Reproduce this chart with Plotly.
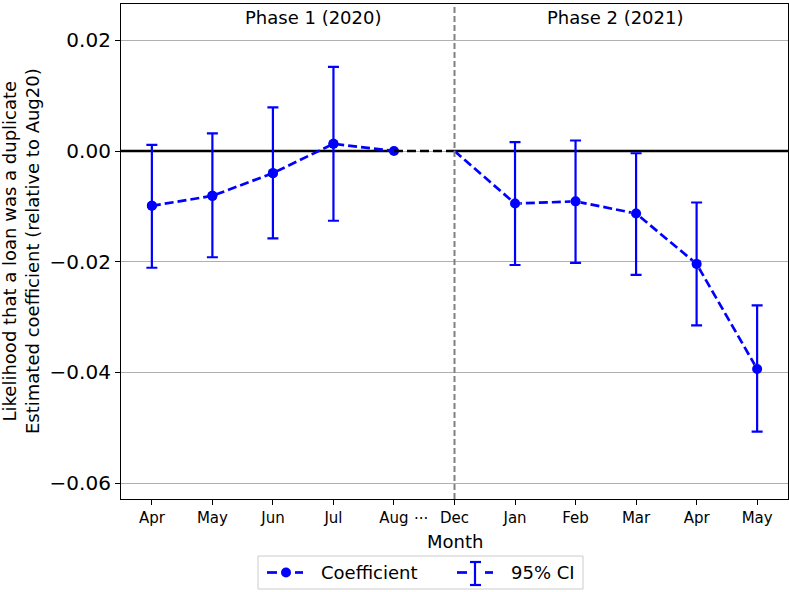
import plotly.graph_objects as go

# Monthly event-study estimates (relative to Aug 2020)
months = ["Apr", "May", "Jun", "Jul", "Aug", "Dec", "Jan", "Feb", "Mar", "Apr", "May"]
coef = [-0.0099, -0.0081, -0.0040, 0.0013, 0.0, 0.0, -0.0095, -0.0091, -0.0113, -0.0204, -0.0394]
ci_low = [-0.0211, -0.0192, -0.0158, -0.0126, None, None, -0.0206, -0.0202, -0.0224, -0.0315, -0.0507]
ci_high = [0.0011, 0.0032, 0.0079, 0.0152, None, None, 0.0016, 0.0019, -0.0004, -0.0093, -0.0279]
phase_labels = ["Phase 1 (2020)", "Phase 2 (2021)"]
phase_start = [1.5, 6.5]
ref_month = 4      # Aug 2020 (reference month)
phase2_start = 5   # Dec, start of Phase 2

xs = list(range(len(months)))
BLUE = "#0000ff"
FONT = "DejaVu Sans"
DASH = "9px,4px"
X_MIN, X_MAX = -0.51, 10.51

# plot-area pixel geometry
L, R, T, B = 121, 788, 4, 499
W, H = 789, 592


def px(x):
    return (x - L) / (R - L)


def py(y):
    return (B - y) / (B - T)


fig = go.Figure()

# Phase 1 line with markers
p1 = xs[: ref_month + 1]
fig.add_trace(go.Scatter(
    x=p1, y=[coef[i] for i in p1], mode="lines+markers",
    line=dict(color=BLUE, width=2.7, dash=DASH),
    marker=dict(color=BLUE, size=10), showlegend=False, hoverinfo="skip"))

# Gap segment between phases
gap = [ref_month, phase2_start]
fig.add_trace(go.Scatter(
    x=gap, y=[coef[i] for i in gap], mode="lines",
    line=dict(color="black", width=2.7, dash=DASH),
    showlegend=False, hoverinfo="skip"))

# Phase 2 line; Dec anchor drawn without a marker
p2 = xs[phase2_start:]
fig.add_trace(go.Scatter(
    x=p2, y=[coef[i] for i in p2], mode="lines+markers",
    line=dict(color=BLUE, width=2.7, dash=DASH),
    marker=dict(color=BLUE, size=[0] + [10] * (len(p2) - 1)),
    showlegend=False, hoverinfo="skip"))

# 95% confidence intervals
ci_idx = [i for i in xs if ci_low[i] is not None]
fig.add_trace(go.Scatter(
    x=ci_idx, y=[coef[i] for i in ci_idx], mode="markers",
    marker=dict(color=BLUE, size=10),
    error_y=dict(type="data", symmetric=False,
                 array=[ci_high[i] - coef[i] for i in ci_idx],
                 arrayminus=[coef[i] - ci_low[i] for i in ci_idx],
                 color=BLUE, thickness=2.2, width=5.5),
    showlegend=False, hoverinfo="skip"))

shapes = [
    # zero reference within each phase
    dict(type="line", xref="x", yref="y", x0=X_MIN, x1=ref_month, y0=0, y1=0,
         layer="between", line=dict(color="black", width=2.5)),
    dict(type="line", xref="x", yref="y", x0=phase2_start, x1=X_MAX, y0=0, y1=0,
         layer="between", line=dict(color="black", width=2.5)),
    # phase boundary
    dict(type="line", xref="x", yref="paper", x0=phase2_start, x1=phase2_start, y0=0, y1=1,
         line=dict(color="#808080", width=2, dash="6px,3px")),
]

# legend box and glyphs
shapes.append(dict(type="rect", xref="paper", yref="paper",
                   x0=px(258), x1=px(583), y0=py(589), y1=py(556),
                   line=dict(color="#cccccc", width=1), fillcolor="white"))
ly = py(572.5)
for a, b in [(267, 277), (295, 303), (457, 467), (485, 493)]:
    shapes.append(dict(type="line", xref="paper", yref="paper", x0=px(a), x1=px(b), y0=ly, y1=ly,
                       line=dict(color=BLUE, width=2.7)))
shapes.append(dict(type="circle", xref="paper", yref="paper",
                   x0=px(281), x1=px(291), y0=py(577.5), y1=py(567.5),
                   line=dict(color=BLUE, width=0), fillcolor=BLUE))
shapes.append(dict(type="line", xref="paper", yref="paper", x0=px(475), x1=px(475),
                   y0=py(585), y1=py(562), line=dict(color=BLUE, width=2.2)))
for yy in (562, 585):
    shapes.append(dict(type="line", xref="paper", yref="paper", x0=px(470), x1=px(481),
                       y0=py(yy), y1=py(yy), line=dict(color=BLUE, width=2.2)))

annotations = []
for lab, x0 in zip(phase_labels, phase_start):
    annotations.append(dict(text=lab, x=x0, xref="x", y=py(18), yref="paper",
                            xanchor="left", yanchor="middle", showarrow=False,
                            font=dict(family=FONT, size=18, color="black")))
annotations.append(dict(text="···", x=4.45, xref="x", y=py(519), yref="paper",
                        xanchor="center", yanchor="middle", showarrow=False,
                        font=dict(family=FONT, size=15, color="black")))
annotations.append(dict(text="Month", x=0.5, xref="paper", y=py(541), yref="paper",
                        xanchor="center", yanchor="middle", showarrow=False,
                        font=dict(family=FONT, size=18, color="black")))
annotations.append(dict(text="Likelihood that a loan was a duplicate<br>Estimated coefficient (relative to Aug20)",
                        x=px(21), xref="paper", y=py(251), yref="paper", textangle=-90,
                        xanchor="center", yanchor="middle", showarrow=False,
                        font=dict(family=FONT, size=18, color="black")))
annotations.append(dict(text="Coefficient", x=px(319), xref="paper", y=ly, yref="paper",
                        xanchor="left", yanchor="middle", showarrow=False,
                        font=dict(family=FONT, size=18, color="black")))
annotations.append(dict(text="95% CI", x=px(509), xref="paper", y=ly, yref="paper",
                        xanchor="left", yanchor="middle", showarrow=False,
                        font=dict(family=FONT, size=18, color="black")))

fig.update_layout(
    width=W, height=H,
    margin=dict(l=L, r=W - R, t=T, b=H - B),
    paper_bgcolor="white", plot_bgcolor="white",
    font=dict(family=FONT, color="black"),
    shapes=shapes, annotations=annotations,
    xaxis=dict(range=[X_MIN, X_MAX], tickmode="array", tickvals=xs, ticktext=months,
               showgrid=False, zeroline=False, showline=True, mirror=True,
               linecolor="black", linewidth=1.2, ticks="outside", ticklen=5,
               tickcolor="black", tickfont=dict(size=15, family=FONT)),
    yaxis=dict(range=[-0.06289, 0.02657], tickmode="array",
               tickvals=[0.02, 0.0, -0.02, -0.04, -0.06],
               ticktext=["0.02", "0.00", "\u22120.02", "\u22120.04", "\u22120.06"],
               showgrid=True, gridcolor="#b0b0b0", gridwidth=1,
               zeroline=False,
               showline=True, mirror=True, linecolor="black", linewidth=1.2,
               ticks="outside", ticklen=5, tickcolor="black",
               tickfont=dict(size=20, family=FONT)),
)

fig.write_html("out.html")
